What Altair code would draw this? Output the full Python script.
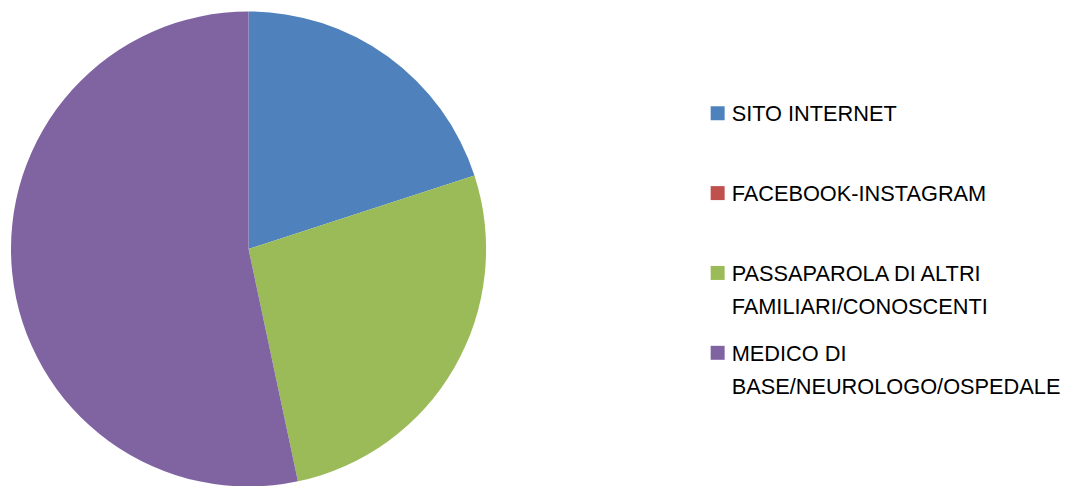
import altair as alt
import pandas as pd

categories = ["SITO INTERNET", "FACEBOOK-INSTAGRAM", "PASSAPAROLA DI ALTRI\nFAMILIARI/CONOSCENTI", "MEDICO DI\nBASE/NEUROLOGO/OSPEDALE"]
values = [3, 0, 4, 8]
colors = ["#4F81BD", "#C0504D", "#9BBB59", "#8064A2"]

df = pd.DataFrame({"cat": categories, "val": values, "ord": list(range(len(categories)))})

color = alt.Color("cat:N", sort=categories,
                  scale=alt.Scale(domain=categories, range=colors), legend=None)

pie = alt.Chart(df).mark_arc(radius=238).encode(
    theta=alt.Theta("val:Q", stack=True),
    order=alt.Order("ord:Q"),
    color=color,
).properties(width=482, height=482)

ypos = alt.Y("cat:N", sort=categories, axis=None,
             scale=alt.Scale(type="point", range=[105, 345], padding=0))

squares = alt.Chart(df).mark_square(size=196, opacity=1).encode(
    x=alt.value(229), y=ypos, color=color)

labels = alt.Chart(df).mark_text(
    align="left", baseline="alphabetic", dy=8, lineBreak="\n", lineHeight=33,
    font="Liberation Sans", fontSize=21.8, color="#000000"
).encode(x=alt.value(243), y=ypos, text="cat:N")

legend = alt.layer(squares, labels).properties(width=570, height=482)

chart = alt.hconcat(pie, legend, spacing=0).properties(padding=0).configure_view(stroke=None)

chart.save("out.html", embed_options={"renderer": "svg", "actions": False})
